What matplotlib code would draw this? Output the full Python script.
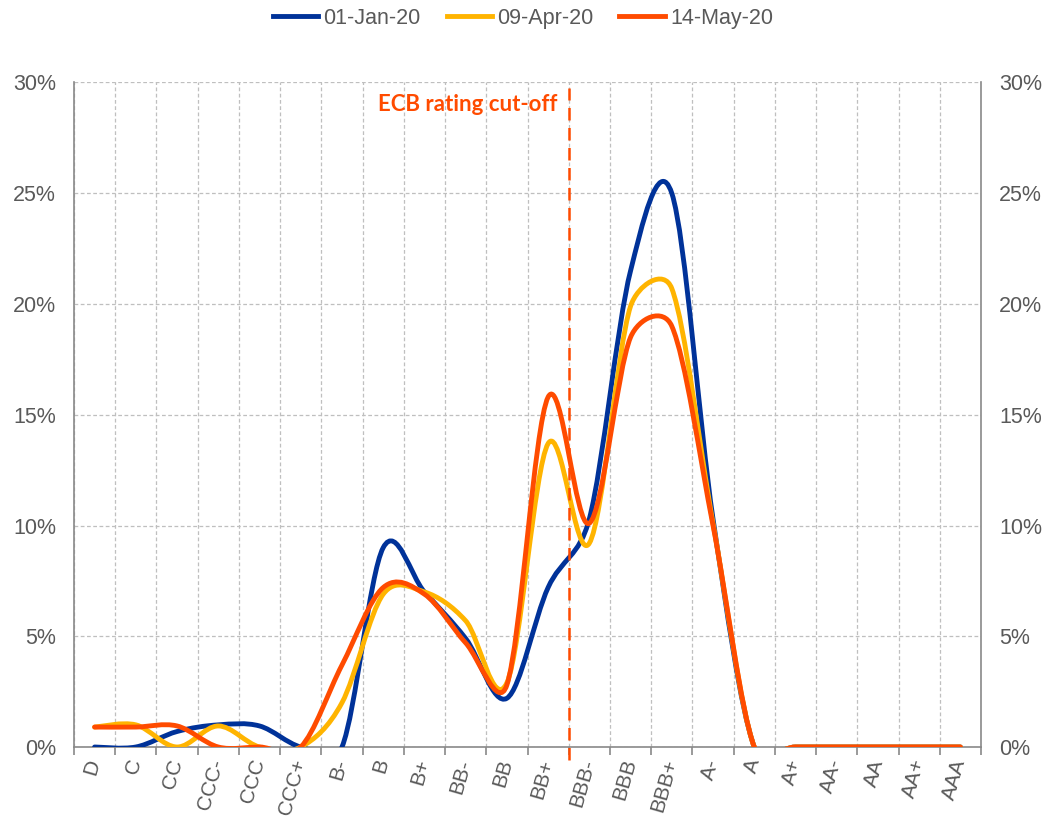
import numpy as np
import matplotlib
matplotlib.use('Agg')
import matplotlib.pyplot as plt
from matplotlib.path import Path
from matplotlib.patches import PathPatch
from matplotlib.lines import Line2D

# Rating buckets and shares (%)
categories = ['D', 'C', 'CC', 'CCC-', 'CCC', 'CCC+', 'B-', 'B', 'B+', 'BB-', 'BB', 'BB+',
              'BBB-', 'BBB', 'BBB+', 'A-', 'A', 'A+', 'AA-', 'AA', 'AA+', 'AAA']
jan_20 = [0.0, 0.0, 0.7, 1.0, 0.95, 0.0, 0.0, 9.0, 7.0, 4.9, 2.2, 7.2,
          10.3, 21.5, 25.0, 10.3, 0.0, 0.0, 0.0, 0.0, 0.0, 0.0]
apr_20 = [0.9, 1.0, 0.0, 0.95, 0.0, 0.0, 2.0, 6.9, 7.0, 5.7, 2.9, 13.7,
          9.2, 19.9, 20.7, 10.1, 0.0, 0.0, 0.0, 0.0, 0.0, 0.0]
may_20 = [0.9, 0.9, 0.95, 0.0, 0.0, 0.0, 3.7, 7.2, 6.9, 4.7, 2.8, 15.8,
          10.1, 18.5, 19.0, 10.0, 0.0, 0.0, 0.0, 0.0, 0.0, 0.0]
series_labels = ['01-Jan-20', '09-Apr-20', '14-May-20']
yticks = [0, 5, 10, 15, 20, 25, 30]
cutoff_pos = 11.5  # between BB+ and BBB-

colors = ['#003299', '#FFB400', '#FF4B00']
text_gray = '#595959'
axis_gray = '#898989'
grid_gray = '#BFBFBF'

plt.rcParams['font.family'] = ['Liberation Sans', 'DejaVu Sans']

fig = plt.figure(figsize=(10.48, 8.21), dpi=100)
ax_w, ax_h = 907, 664.5
ax = fig.add_axes([74 / 1048, 1 - 747 / 821, ax_w / 1048, ax_h / 821])
ax.set_xlim(-0.5, len(categories) - 0.5)
ax.set_ylim(0, 30)

# pixels per data unit, used for the Excel-like smoothing
sx = ax_w / len(categories)
sy = ax_h / 30


def smooth_path(values):
    pts = np.column_stack([np.arange(len(values)) * sx, np.asarray(values) * sy])
    n = len(pts)
    verts = [pts[0]]
    codes = [Path.MOVETO]
    for i in range(n - 1):
        p0, p1, p2, p3 = pts[max(i - 1, 0)], pts[i], pts[i + 1], pts[min(i + 2, n - 1)]
        d12 = np.linalg.norm(p2 - p1)
        d02 = np.linalg.norm(p2 - p0)
        d13 = np.linalg.norm(p3 - p1)
        f1 = 1 / 6 if d02 / 6 < d12 / 2 else d12 / (2 * d02)
        f2 = 1 / 6 if d13 / 6 < d12 / 2 else d12 / (2 * d13)
        verts += [p1 + f1 * (p2 - p0), p2 - f2 * (p3 - p1), p2]
        codes += [Path.CURVE4] * 3
    verts = np.array(verts) / [sx, sy]
    return Path(verts, codes)


for vals, c in zip([jan_20, apr_20, may_20], colors):
    ax.add_patch(PathPatch(smooth_path(vals), fill=False, edgecolor=c, lw=3.5,
                           capstyle='round', joinstyle='round', zorder=3))

# ECB cut-off line and label
ax.plot([cutoff_pos, cutoff_pos], [-0.6, 29.75], color='#FF4B00', lw=1.8,
        ls=(0, (5, 3)), clip_on=False, zorder=4)
ax.text(cutoff_pos - 0.27, 29.0, 'ECB rating cut-off', ha='right', va='center',
        color='#FF4B00', fontweight='bold', fontsize=16, family=['Lato', 'DejaVu Sans'])

# axes styling
ax.set_xticks(range(len(categories)))
ax.set_xticklabels(categories, rotation=74, ha='right', va='center',
                   rotation_mode='anchor', fontsize=15, color=text_gray)
ax.set_xticks(np.arange(-0.5, len(categories), 1), minor=True)
ax.tick_params(axis='x', which='major', length=0, pad=9)
ax.tick_params(axis='x', which='minor', length=6, color=axis_gray, width=1.2)

ax.set_yticks(yticks)
ax.set_yticklabels([f'{v}%' for v in yticks])
ax.tick_params(axis='y', which='major', left=True, right=True, labelleft=True,
               labelright=True, length=0, pad=13, labelsize=15.5, labelcolor=text_gray)

ax.grid(axis='x', which='minor', ls=(0, (3, 2)), color=grid_gray, lw=0.9)
ax.grid(axis='y', which='major', ls=(0, (3, 2)), color=grid_gray, lw=0.9)
ax.set_axisbelow(True)

ax.spines['top'].set_visible(False)
for s in ['left', 'right', 'bottom']:
    ax.spines[s].set_color(axis_gray)
    ax.spines[s].set_linewidth(1.2)

handles = [Line2D([], [], color=c, lw=3.5) for c in colors]
fig.legend(handles, series_labels, loc='center', bbox_to_anchor=(0.499, 0.978), ncol=3,
           frameon=False, fontsize=15.5, handlelength=2.1, handletextpad=0.25,
           columnspacing=1.2, labelcolor=text_gray)

fig.savefig('out.png', dpi=100)
